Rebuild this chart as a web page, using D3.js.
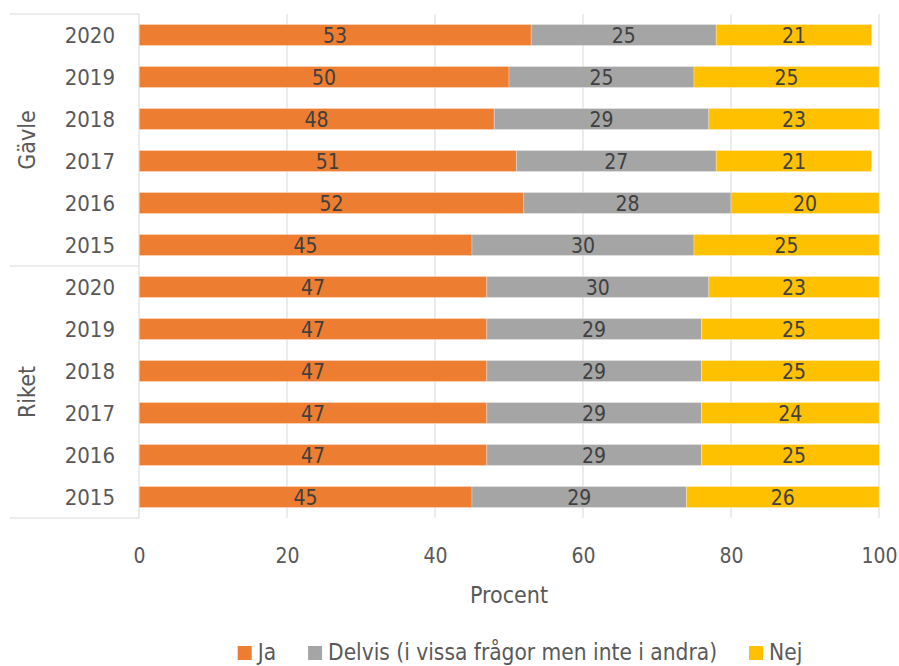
<!DOCTYPE html>
<html>
<head>
<meta charset="utf-8">
<script src="https://cdn.jsdelivr.net/npm/d3@7/dist/d3.min.js"></script>
<style>
  html, body { margin: 0; padding: 0; background: #fff; }
  svg { display: block; }
  text { font-family: "DejaVu Sans Condensed", "DejaVu Sans", Lato, sans-serif; }
</style>
</head>
<body>
<svg id="chart" width="899" height="666"></svg>
<script>
// ---- Data ----
const groups = ["Gävle", "Riket"];
const years = ["2020", "2019", "2018", "2017", "2016", "2015"];
const seriesNames = ["Ja", "Delvis (i vissa frågor men inte i andra)", "Nej"];
const gavleJa     = [53, 50, 48, 51, 52, 45];
const gavleDelvis = [25, 25, 29, 27, 28, 30];
const gavleNej    = [21, 25, 23, 21, 20, 25];
const riketJa     = [47, 47, 47, 47, 47, 45];
const riketDelvis = [30, 29, 29, 29, 29, 29];
const riketNej    = [23, 25, 25, 24, 25, 26];
const xTicks = [0, 20, 40, 60, 80, 100];
const xTitle = "Procent";

const colors = ["#ED7D31", "#A5A5A5", "#FFC000"];

// Build rows
const groupValues = {
  "Gävle": [gavleJa, gavleDelvis, gavleNej],
  "Riket": [riketJa, riketDelvis, riketNej]
};
const rows = [];
groups.forEach(g => {
  years.forEach((y, i) => {
    rows.push({ key: g + "|" + y, group: g, year: y,
      vals: groupValues[g].map(arr => arr[i]) });
  });
});

const svg = d3.select("#chart");
const W = 899, H = 666;
const m = { left: 139, right: 20, top: 14, bottom: 148 };
const pw = W - m.left - m.right, ph = H - m.top - m.bottom;

const x = d3.scaleLinear().domain([0, 100]).range([m.left, m.left + pw]);
const y = d3.scaleBand().domain(rows.map(r => r.key))
  .range([m.top, m.top + ph]).paddingInner(0.5).paddingOuter(0.25);

const gridColor = "#D9D9D9";
const axisText = "#595959";

// gridlines
svg.append("g").selectAll("line").data(xTicks.filter(t => t > 0)).join("line")
  .attr("x1", d => x(d)).attr("x2", d => x(d))
  .attr("y1", m.top).attr("y2", m.top + ph)
  .attr("stroke", gridColor).attr("stroke-width", 1);

// clip
svg.append("defs").append("clipPath").attr("id", "plotclip")
  .append("rect").attr("x", m.left).attr("y", 0).attr("width", pw).attr("height", H);

// stacked data
const stackData = rows.map(r => {
  let acc = 0;
  return r.vals.map((v, i) => {
    const s = { row: r, i, v, x0: acc, x1: acc + v };
    acc += v;
    return s;
  });
}).flat();

const bars = svg.append("g").attr("clip-path", "url(#plotclip)");
bars.selectAll("rect").data(stackData).join("rect")
  .attr("x", d => x(d.x0))
  .attr("width", d => x(d.x1) - x(d.x0))
  .attr("y", d => y(d.row.key))
  .attr("height", y.bandwidth())
  .attr("fill", d => colors[d.i])
  .attr("stroke", "#fff").attr("stroke-opacity", 0.35).attr("stroke-width", 0.8);

// data labels
svg.append("g").selectAll("text").data(stackData).join("text")
  .attr("x", d => x((d.x0 + d.x1) / 2))
  .attr("y", d => y(d.row.key) + y.bandwidth() / 2)
  .attr("dy", "0.36em")
  .attr("text-anchor", "middle")
  .attr("font-size", 21)
  .attr("fill", "#404040")
  .text(d => d.v);

// left axis line
svg.append("line")
  .attr("x1", m.left).attr("x2", m.left)
  .attr("y1", m.top).attr("y2", m.top + ph)
  .attr("stroke", gridColor).attr("stroke-width", 1);

// group separators
const sepYs = [m.top];
groups.forEach(g => {
  const ks = rows.filter(r => r.group === g).map(r => r.key);
  const last = ks[ks.length - 1];
  const idx = rows.findIndex(r => r.key === last);
  if (idx === rows.length - 1) sepYs.push(m.top + ph);
  else sepYs.push((y(last) + y.bandwidth() + y(rows[idx + 1].key)) / 2);
});
svg.append("g").selectAll("line").data(sepYs).join("line")
  .attr("x1", 10).attr("x2", m.left)
  .attr("y1", d => d).attr("y2", d => d)
  .attr("stroke", gridColor).attr("stroke-width", 1);

// year labels
svg.append("g").selectAll("text").data(rows).join("text")
  .attr("x", 115)
  .attr("y", d => y(d.key) + y.bandwidth() / 2)
  .attr("dy", "0.36em")
  .attr("text-anchor", "end")
  .attr("font-size", 22)
  .attr("fill", axisText)
  .text(d => d.year);

// group labels
groups.forEach((g, gi) => {
  const cy = (sepYs[gi] + sepYs[gi + 1]) / 2;
  svg.append("text")
    .attr("transform", `translate(27,${cy}) rotate(-90)`)
    .attr("dy", "0.36em")
    .attr("text-anchor", "middle")
    .attr("font-size", 23)
    .attr("fill", axisText)
    .text(g);
});

// x tick labels
const xAxis = d3.axisBottom(x).tickValues(xTicks).tickSize(0).tickPadding(0);
const xg = svg.append("g").attr("transform", `translate(0,${m.top + ph})`).call(xAxis);
xg.select(".domain").remove();
xg.selectAll("text")
  .attr("y", 37).attr("dy", "0.36em")
  .attr("font-size", 21)
  .attr("font-family", null)
  .attr("fill", axisText);

// x title
svg.append("text")
  .attr("x", m.left + pw / 2).attr("y", 595).attr("dy", "0.36em")
  .attr("text-anchor", "middle")
  .attr("font-size", 23)
  .attr("fill", axisText)
  .text(xTitle);

// legend
const lg = svg.append("g");
const legendFs = 22.5, sq = 14, gapText = 6, gapItem = 32;
const items = seriesNames.map((n, i) => {
  const t = lg.append("text").attr("font-size", legendFs).attr("fill", axisText)
    .attr("y", 652).attr("dy", "0.36em").text(n);
  const w = t.node().getComputedTextLength();
  return { t, w, i };
});
const total = items.reduce((s, it) => s + sq + gapText + it.w, 0) + gapItem * (items.length - 1);
let cx = 520 - total / 2;
items.forEach(it => {
  lg.append("rect").attr("x", cx).attr("y", 653 - sq / 2).attr("width", sq).attr("height", sq)
    .attr("fill", colors[it.i]);
  it.t.attr("x", cx + sq + gapText);
  cx += sq + gapText + it.w + gapItem;
});
</script>
</body>
</html>
